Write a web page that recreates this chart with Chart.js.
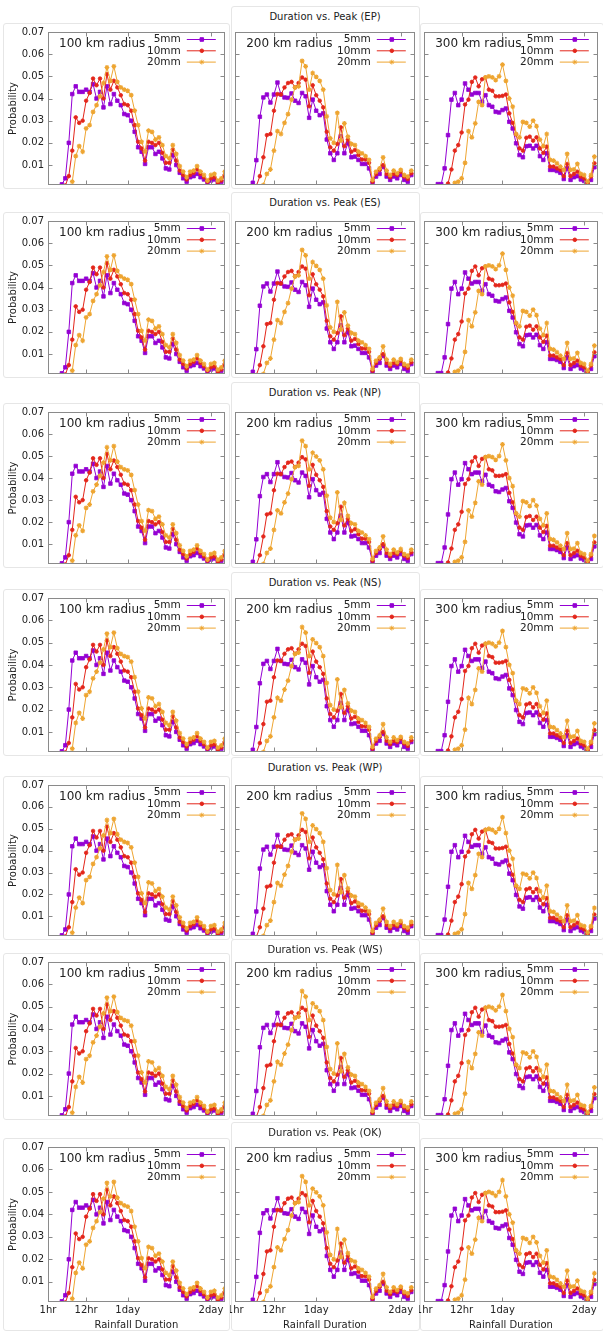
<!DOCTYPE html>
<html>
<head>
<meta charset="utf-8">
<script src="https://cdn.jsdelivr.net/npm/chart.js@4.4.1/dist/chart.umd.min.js"></script>
<style>
  body { margin: 0; background: #fff; }
  #fig { position: relative; width: 603px; height: 1333px; overflow: hidden; font-family: "DejaVu Sans", sans-serif; }
  .frame { position: absolute; border: 1px solid #e6e6e6; border-radius: 3px; box-sizing: border-box; }
  .title { position: absolute; width: 200px; text-align: center; font-size: 10px; line-height: 14px; color: #222; }
  canvas { position: absolute; }
</style>
</head>
<body>
<div id="fig"></div>
<script>
// Categories / labels
const regions = ["EP", "ES", "NP", "NS", "WP", "WS", "OK"];
const radii = ["100 km radius", "200 km radius", "300 km radius"];
const seriesNames = ["5mm", "10mm", "20mm"];
const hours = [1, 2, 3, 4, 5, 6, 7, 8, 9, 10, 11, 12, 13, 14, 15, 16, 17, 18, 19, 20, 21, 22, 23, 24, 25, 26,
  27, 28, 29, 30, 31, 32, 33, 34, 35, 36, 37, 38, 39, 40, 41, 42, 43, 44, 45, 46, 47, 48, 49, 50, 51, 52];
const xTickValues = [1, 12, 24, 48];
const xTickLabels = ["1hr", "12hr", "1day", "2day"];
const yTickValues = [0.01, 0.02, 0.03, 0.04, 0.05, 0.06, 0.07];
const yTickLabels = ["0.01", "0.02", "0.03", "0.04", "0.05", "0.06", "0.07"];

// Probability per hour (index 0 = 1hr)
const r100_5 = [null, null, null, null, 0.0013, 0.004, 0.020, 0.042, 0.0455, 0.043, 0.043, 0.044, 0.043, 0.0465,
  0.040, 0.043, 0.036, 0.0455, 0.0375, 0.042, 0.039, 0.037, 0.033, 0.0325, 0.030, 0.025, 0.018, 0.016, 0.0105,
  0.018, 0.018, 0.015, 0.016, 0.013, 0.0085, 0.008, 0.0145, 0.010, 0.0065, 0.004, 0.0025, 0.0045, 0.005, 0.006,
  0.0045, 0.0035, 0.002, 0.003, 0.0035, 0.0017, 0.0025, 0.005];
const r100_10 = [null, null, null, null, null, 0.0008, 0.005, 0.0165, 0.0315, 0.029, 0.030, 0.039, 0.0425, 0.049,
  0.046, 0.049, 0.040, 0.051, 0.044, 0.048, 0.045, 0.0415, 0.0375, 0.037, 0.0345, 0.028, 0.0205, 0.0175, 0.012,
  0.0205, 0.020, 0.019, 0.020, 0.0155, 0.011, 0.011, 0.017, 0.012, 0.0075, 0.0055, 0.0035, 0.0055, 0.0065, 0.008,
  0.006, 0.0045, 0.0025, 0.004, 0.0045, 0.002, 0.003, 0.0055];
const r100_20 = [null, null, null, null, null, null, null, 0.0025, 0.014, 0.0185, 0.016, 0.0265, 0.028, 0.034,
  0.037, 0.041, 0.047, 0.054, 0.048, 0.0545, 0.0475, 0.045, 0.044, 0.0435, 0.0415, 0.0345, 0.028, 0.0205, 0.016,
  0.0255, 0.025, 0.0215, 0.0225, 0.019, 0.014, 0.013, 0.019, 0.015, 0.0095, 0.007, 0.0045, 0.007, 0.0075, 0.0095,
  0.007, 0.0055, 0.003, 0.0055, 0.006, 0.003, 0.004, 0.007];

const r200_5 = [null, null, null, null, null, 0.002, 0.0122, 0.0318, 0.0405, 0.0418, 0.0382, 0.0418, 0.0472,
  0.0418, 0.0405, 0.0403, 0.0423, 0.039, 0.038, 0.0425, 0.041, 0.0313, 0.0395, 0.0345, 0.0325, 0.0333, 0.0215,
  0.0153, 0.0123, 0.0153, 0.023, 0.0153, 0.0198, 0.0135, 0.0138, 0.0123, 0.0105, 0.0105, 0.0085, 0.002, 0.0048,
  0.006, 0.0093, 0.0048, 0.0033, 0.0048, 0.004, 0.0055, 0.0033, 0.0025, 0.0055, null];
const r200_10 = [null, null, null, null, null, null, 0.0005, 0.005, 0.0135, 0.0235, 0.024, 0.0345, 0.042, 0.0418,
  0.045, 0.047, 0.0475, 0.045, 0.047, 0.0495, 0.0485, 0.0365, 0.046, 0.0415, 0.039, 0.036, 0.025, 0.018, 0.0165,
  0.0195, 0.027, 0.0185, 0.0215, 0.016, 0.0168, 0.0145, 0.0125, 0.0125, 0.011, 0.0025, 0.006, 0.0078, 0.010,
  0.006, 0.0045, 0.006, 0.0055, 0.007, 0.0048, 0.0037, 0.0063, null];
const r200_20 = [null, null, null, null, null, null, null, null, 0.001, 0.006, 0.008, 0.0165, 0.0253, 0.024, 0.029,
  0.033, 0.0395, 0.045, 0.0455, 0.057, 0.0545, 0.044, 0.0515, 0.0498, 0.048, 0.044, 0.032, 0.022, 0.020, 0.0335,
  0.021, 0.0288, 0.0228, 0.0195, 0.019, 0.016, 0.0153, 0.014, 0.0123, 0.0033, 0.007, 0.0085, 0.0135, 0.0075,
  0.0055, 0.0075, 0.0063, 0.0078, 0.0055, 0.0048, 0.0075, null];

const r300_5 = [null, null, null, null, 0.0014, 0.0014, 0.0085, 0.0235, 0.0395, 0.0425, 0.037, 0.0395, 0.0468,
  0.044, 0.0418, 0.0425, 0.0425, 0.0385, 0.0415, 0.037, 0.0363, 0.034, 0.0337, 0.0348, 0.0355, 0.0295, 0.0265,
  0.0198, 0.0145, 0.0135, 0.0185, 0.0187, 0.0175, 0.0187, 0.014, 0.0123, 0.0153, 0.0078, 0.0078, 0.0073, 0.0065,
  0.0037, 0.0085, 0.0033, 0.0045, 0.005, 0.0035, 0.0028, 0.0013, 0.0033, 0.009, null];
const r300_10 = [null, null, null, null, null, null, null, 0.0017, 0.008, 0.0165, 0.019, 0.0247, 0.0373, 0.0395,
  0.0475, 0.0495, 0.0455, 0.0487, 0.0495, 0.044, 0.0435, 0.041, 0.041, 0.0412, 0.0418, 0.0333, 0.029, 0.0238,
  0.0175, 0.0165, 0.0223, 0.0228, 0.021, 0.0225, 0.0175, 0.0155, 0.0183, 0.0093, 0.0093, 0.0085, 0.0078, 0.005,
  0.0105, 0.005, 0.006, 0.007, 0.0048, 0.004, 0.0018, 0.0048, 0.0108, null];
const r300_20 = [null, null, null, null, null, null, null, null, null, 0.002, 0.0025, 0.004, 0.011, 0.0253, 0.0225,
  0.0288, 0.0385, 0.037, 0.0495, 0.050, 0.0495, 0.0483, 0.050, 0.0553, 0.048, 0.040, 0.0363, 0.024, 0.0225,
  0.0295, 0.029, 0.0273, 0.030, 0.0275, 0.0215, 0.0185, 0.024, 0.0123, 0.012, 0.0108, 0.0093, 0.0078, 0.015,
  0.0078, 0.008, 0.0105, 0.006, 0.0055, 0.0025, 0.0055, 0.0138, null];

const columnData = [
  [r100_5, r100_10, r100_20],
  [r200_5, r200_10, r200_20],
  [r300_5, r300_10, r300_20]
];

// Styles
const seriesColors = ["#9400d3", "#e3261b", "#eea531"];
const pointStyles = ["rect", "circle", "star"];
const pointRadii = [2.5, 1.8, 2.4];

// Layout of the stacked panels
const rowTop = [32, 221, 412, 598, 785, 962, 1147];
const rowBottom = [185, 374, 564, 752, 936, 1116, 1302];
const titleY = [17, 203, 393, 583, 768, 950, 1133];
const colX = [0, 230, 419];
const colW = [230, 190, 184];
const padL = [4, 4, 2];
const padR = [2, 3, 1];
const axisW = [44, 0, 0];

Chart.defaults.font.family = '"DejaVu Sans", sans-serif';
Chart.defaults.font.size = 10;
Chart.defaults.color = "#222";

// Border, inward ticks, radius label and key, gnuplot style
const panelKey = {
  id: "panelKey",
  afterDatasetsDraw(chart, args, opts) {
    const { ctx, chartArea: a, scales: { x, y } } = chart;
    ctx.save();
    ctx.strokeStyle = "#8a8a8a";
    ctx.lineWidth = 1;
    const L = Math.round(a.left) + 0.5, R = Math.round(a.right) - 0.5;
    const T = Math.round(a.top) + 0.5, B = Math.round(a.bottom) - 0.5;
    ctx.strokeRect(L, T, R - L, B - T);
    ctx.beginPath();
    xTickValues.forEach(v => {
      const px = Math.round(x.getPixelForValue(v)) + 0.5;
      ctx.moveTo(px, B); ctx.lineTo(px, B - 4);
      ctx.moveTo(px, T); ctx.lineTo(px, T + 4);
    });
    yTickValues.forEach(v => {
      const py = Math.round(y.getPixelForValue(v)) + 0.5;
      ctx.moveTo(L, py); ctx.lineTo(L + 4, py);
      ctx.moveTo(R, py); ctx.lineTo(R - 4, py);
    });
    ctx.stroke();

    ctx.fillStyle = "#222";
    ctx.font = '12px "DejaVu Sans"';
    ctx.textAlign = "left";
    ctx.textBaseline = "middle";
    ctx.fillText(opts.label, a.left + 11, a.top + 11.5);

    ctx.font = '10.5px "DejaVu Sans"';
    ctx.textAlign = "right";
    chart.data.datasets.forEach((ds, i) => {
      const ky = a.top + 7.5 + i * 11.3;
      ctx.fillStyle = "#222";
      ctx.fillText(ds.label, a.right - 44, ky);
      ctx.strokeStyle = ds.borderColor;
      ctx.fillStyle = ds.borderColor;
      ctx.lineWidth = 1;
      ctx.beginPath();
      ctx.moveTo(a.right - 38, ky);
      ctx.lineTo(a.right - 9, ky);
      ctx.stroke();
      Chart.helpers.drawPoint(ctx, { pointStyle: ds.pointStyle, radius: ds.pointRadius, borderWidth: ds.pointBorderWidth, rotation: 0 }, a.right - 23, ky);
    });
    ctx.restore();
  }
};

function makeDatasets(vals) {
  return seriesNames.map((name, i) => ({
    label: name,
    data: hours.map((h, k) => ({ x: h, y: vals[i][k] })),
    borderColor: seriesColors[i],
    backgroundColor: seriesColors[i],
    pointBackgroundColor: seriesColors[i],
    pointBorderColor: seriesColors[i],
    pointStyle: pointStyles[i],
    pointRadius: pointRadii[i],
    pointBorderWidth: i === 2 ? 1.2 : 0.8,
    borderWidth: 1,
    tension: 0,
    order: 3 - i
  }));
}

const fig = document.getElementById("fig");

regions.forEach((reg, r) => {
  const last = r === regions.length - 1;

  const t = document.createElement("div");
  t.className = "title";
  t.style.left = "225px";
  t.style.top = (titleY[r] - 7) + "px";
  t.textContent = `Duration vs. Peak (${reg})`;
  fig.appendChild(t);

  radii.forEach((rad, c) => {
    // light frame round each panel screenshot
    const f = document.createElement("div");
    f.className = "frame";
    const fx = [3, 231, 420][c];
    const fTop = c === 1 ? titleY[r] - 11 : rowTop[r] - 9;
    const fBottom = last ? 1331 : rowBottom[r] + 4;
    f.style.left = fx + "px";
    f.style.width = ([230, 420, 604][c] - fx) + "px";
    f.style.top = fTop + "px";
    f.style.height = (fBottom - fTop) + "px";
    fig.appendChild(f);

    const top = rowTop[r] - 8;
    const h = last ? 1333 - top : rowBottom[r] - rowTop[r] + 14;
    const cv = document.createElement("canvas");
    cv.width = colW[c];
    cv.height = h;
    cv.style.width = colW[c] + "px";
    cv.style.height = h + "px";
    cv.style.left = colX[c] + "px";
    cv.style.top = top + "px";
    fig.appendChild(cv);

    new Chart(cv, {
      type: "line",
      data: { datasets: makeDatasets(columnData[c]) },
      options: {
        responsive: false,
        animation: false,
        devicePixelRatio: 1,
        layout: { padding: { left: padL[c], right: padR[c], top: 8, bottom: last ? 0 : 6 } },
        plugins: {
          legend: { display: false },
          tooltip: { enabled: false },
          panelKey: { label: rad }
        },
        scales: {
          x: {
            type: "linear",
            min: 1,
            max: 52,
            grid: { display: false, drawTicks: false },
            border: { display: false },
            ticks: {
              display: last,
              autoSkip: false,
              maxRotation: 0,
              padding: 2,
              color: "#222",
              font: { size: 10 },
              callback: (v, i) => xTickLabels[i]
            },
            title: {
              display: last,
              text: "Rainfall Duration",
              color: "#222",
              font: { size: 10 },
              padding: { top: 0, bottom: 2 }
            },
            afterBuildTicks: s => { s.ticks = xTickValues.map(v => ({ value: v })); },
            afterFit: s => { s.height = last ? 31 : 0; s.paddingLeft = 0; s.paddingRight = 0; }
          },
          y: {
            min: 0.001,
            max: 0.07,
            grid: { display: false, drawTicks: false },
            border: { display: false },
            ticks: {
              display: c === 0,
              padding: 4,
              color: "#222",
              font: { size: 10 },
              callback: (v, i) => yTickLabels[i]
            },
            title: {
              display: c === 0,
              text: "Probability",
              color: "#222",
              font: { size: 10 },
              padding: { top: 3, bottom: 0 }
            },
            afterBuildTicks: s => { s.ticks = yTickValues.map(v => ({ value: v })); },
            afterFit: s => { s.width = axisW[c]; s.paddingTop = 0; s.paddingBottom = 0; }
          }
        }
      },
      plugins: [panelKey]
    });
  });
});
</script>
</body>
</html>
